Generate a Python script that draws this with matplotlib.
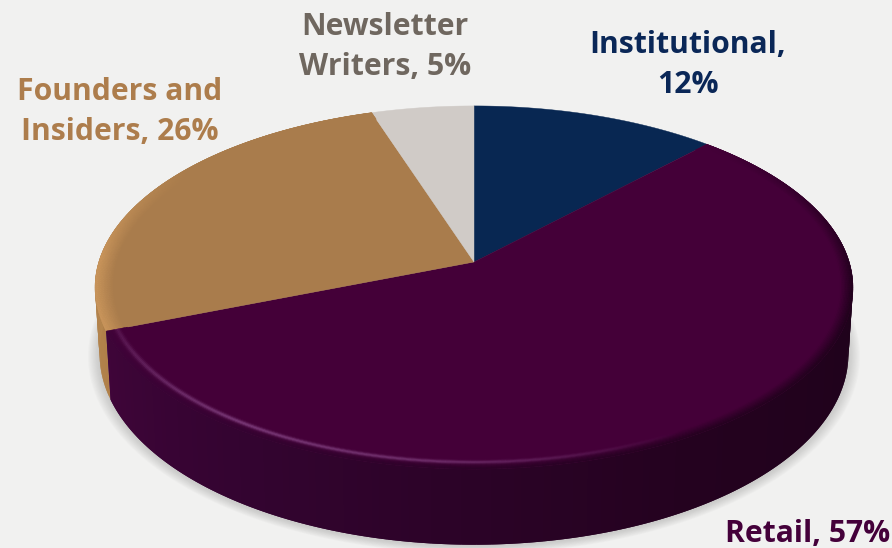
import numpy as np
import matplotlib
matplotlib.use('Agg')
import matplotlib.pyplot as plt
from matplotlib.collections import PolyCollection
from matplotlib.colors import to_rgb

# slices, clockwise from 12 o'clock
categories = ['Institutional', 'Retail', 'Founders and Insiders', 'Newsletter Writers']
shares = [12, 57, 26, 5]
face_colors = ['#082752', '#440038', '#a97c4c', '#d0cbc7']
label_lines = ['Institutional,\n12%', 'Retail, 57%', 'Founders and\nInsiders, 26%', 'Newsletter\nWriters, 5%']
label_colors = ['#0a2757', '#44003a', '#ad7d4c', '#6f675f']
label_pos = [(688, 65), (808, 534), (120, 112), (385, 47)]

W, H = 892, 548
BG = '#f1f1f0'

# perspective of the pie disc, in pixels
CX, CY = 474, 262
BX, AY, K = 375.2, 178.0, 0.1405
DEPTH = 65
BOTTOM_X = 0.988


def project(theta, r=1.0, drop=0.0, xs=1.0):
    t = np.radians(theta)
    u = r * np.sin(t)
    v = -r * np.cos(t)
    w = 1 / (1 - K * v)
    return CX + BX * u * w * xs, CY + AY * v * w + drop * w


def mix(c1, c2, f):
    return tuple(np.array(c1) * (1 - f) + np.array(c2) * f)


def wall_color(theta, angles, colors):
    rgb = np.array([to_rgb(c) for c in colors])
    return tuple(np.interp(theta, angles, rgb[:, i]) for i in range(3))


def draw_wall(ax, start, end, angles, colors, z):
    # each strip runs on under the next one so no seams show
    th = np.linspace(start, end, int(end - start) + 2)
    step = th[1] - th[0]
    for a, b in zip(th[:-1], th[1:]):
        arc = np.linspace(a, min(b + step, end), 6)
        x1, y1 = project(arc)
        x2, y2 = project(arc[::-1], drop=DEPTH, xs=BOTTOM_X)
        ax.fill(np.r_[x1, x2], np.r_[y1, y2], color=wall_color((a + b) / 2, angles, colors), lw=0, zorder=z)


fig = plt.figure(figsize=(W / 100, H / 100), dpi=100, facecolor=BG)
ax = fig.add_axes([0, 0, 1, 1])
ax.set_xlim(0, W)
ax.set_ylim(H, 0)
ax.axis('off')
plt.rcParams['font.family'] = ['Open Sans', 'DejaVu Sans']

edges = np.cumsum([0] + shares) * 3.6

# soft shadow under the disc
th = np.linspace(0, 360, 361)
for s in np.linspace(1.03, 1.002, 10):
    x, y = project(th, r=s, drop=DEPTH + 1, xs=BOTTOM_X)
    ax.fill(x, y, color='#8a8a88', alpha=0.04, lw=0, zorder=1)

# outer walls
tan_angles = [edges[2], 290, edges[3]]
tan_walls = ['#b08049', '#b98a52', '#b98a52']
draw_wall(ax, edges[2], edges[3], tan_angles, tan_walls, 2)
wine_angles = [edges[1], 100, 150, 180, 215, edges[2]]
wine_walls = ['#1e0219', '#1f021b', '#24021f', '#2b0327', '#340431', '#3f0539']
draw_wall(ax, edges[1], edges[2], wine_angles, wine_walls, 3)

# top faces
for i in range(len(shares)):
    t = np.linspace(edges[i], edges[i + 1], 200)
    x, y = project(t)
    ax.fill(np.r_[CX, x], np.r_[CY, y], color=face_colors[i], lw=0.3, zorder=4)

# bevel along the rim of the tan slice
base = to_rgb(face_colors[2])
rs = np.linspace(0.95, 1.0, 14)
t = np.linspace(edges[2], edges[3], 160)
polys, cols = [], []
for r1, r2 in zip(rs[:-1], rs[1:]):
    for a, b in zip(t[:-1], t[1:]):
        x1, y1 = project(a, r1)
        x2, y2 = project(b, r1)
        x3, y3 = project(b, r2)
        x4, y4 = project(a, r2)
        polys.append([(x1, y1), (x2, y2), (x3, y3), (x4, y4)])
        f = (r1 - 0.95) / 0.05
        strength = np.interp((a + b) / 2, [edges[2], 272, 305], [1, 1, 0])
        cols.append(mix(base, to_rgb('#cc975c'), f * strength))
ax.add_collection(PolyCollection(polys, facecolors=cols, edgecolors=cols, linewidths=0.3, zorder=5))

# bevel along the rim of the wine slice, with the lit streak at lower left
base = to_rgb(face_colors[1])
rs = np.linspace(0.945, 1.0, 16)
t = np.linspace(edges[1], edges[2], 300)
polys, cols = [], []
for r1, r2 in zip(rs[:-1], rs[1:]):
    rm = (r1 + r2) / 2
    for a, b in zip(t[:-1], t[1:]):
        x1, y1 = project(a, r1)
        x2, y2 = project(b, r1)
        x3, y3 = project(b, r2)
        x4, y4 = project(a, r2)
        polys.append([(x1, y1), (x2, y2), (x3, y3), (x4, y4)])
        m = (a + b) / 2
        dark = np.clip((rm - 0.968) / 0.032, 0, 1) * np.interp(m, [edges[1], 75, 100], [0, 0.6, 1])
        glow = np.exp(-((rm - 0.972) / 0.007) ** 2) * np.interp(m, [150, 185, 215, edges[2]], [0, 0.8, 1, 0.35])
        c = mix(base, wall_color(m, wine_angles, wine_walls), dark)
        cols.append(mix(c, to_rgb('#7a3a78'), glow))
ax.add_collection(PolyCollection(polys, facecolors=cols, edgecolors=cols, linewidths=0.3, zorder=5))

for txt, col, pos in zip(label_lines, label_colors, label_pos):
    ax.text(pos[0], pos[1], txt, color=col, fontsize=21.7, fontweight='bold', ha='center', va='center',
            linespacing=1.476, zorder=6)

fig.savefig('out.png', dpi=100, facecolor=BG)
